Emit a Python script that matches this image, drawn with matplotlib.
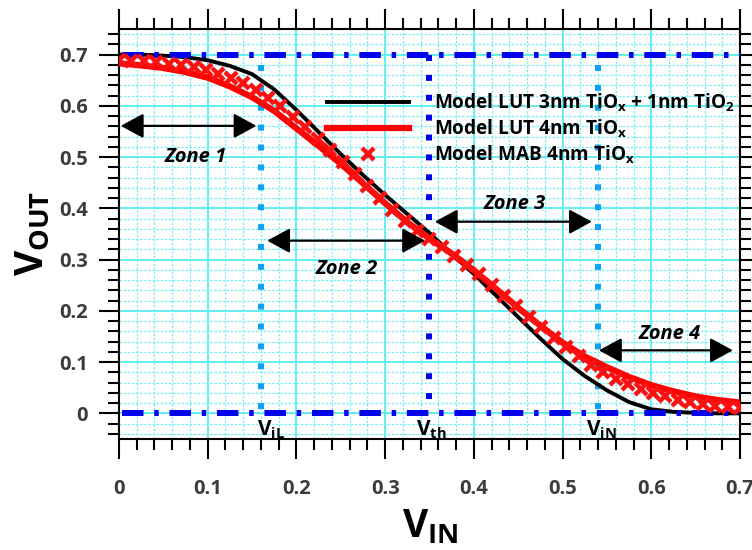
import matplotlib
matplotlib.use("Agg")
import matplotlib.pyplot as plt
from matplotlib.ticker import MultipleLocator
import numpy as np

plt.rcParams["font.family"] = ["Open Sans", "DejaVu Sans"]
plt.rcParams["font.weight"] = "bold"
plt.rcParams["mathtext.fontset"] = "custom"
plt.rcParams["mathtext.rm"] = "Open Sans:bold"
plt.rcParams["mathtext.it"] = "Open Sans:bold:italic"
plt.rcParams["mathtext.bf"] = "Open Sans:bold"

# curves sampled every 0.025 V
v_in = [0.0, 0.025, 0.05, 0.075, 0.1, 0.125, 0.15, 0.175, 0.2, 0.225, 0.25,
        0.275, 0.3, 0.325, 0.35, 0.375, 0.4, 0.425, 0.45, 0.475, 0.5, 0.525,
        0.55, 0.575, 0.6, 0.625, 0.65, 0.675, 0.7]
lut_bilayer = [0.700, 0.700, 0.698, 0.695, 0.689, 0.678, 0.662, 0.632, 0.592,
               0.549, 0.506, 0.465, 0.426, 0.389, 0.352, 0.311, 0.272, 0.230,
               0.188, 0.146, 0.106, 0.073, 0.045, 0.022, 0.008, 0.003, 0.001,
               0.000, 0.000]
lut_single = [0.683, 0.679, 0.674, 0.666, 0.655, 0.638, 0.617, 0.590, 0.556,
              0.522, 0.487, 0.449, 0.410, 0.373, 0.341, 0.312, 0.279, 0.243,
              0.206, 0.171, 0.138, 0.111, 0.090, 0.071, 0.055, 0.043, 0.033,
              0.026, 0.021]

# MAB model points
v_mab = [0.000, 0.014, 0.028, 0.042, 0.056, 0.070, 0.084, 0.098, 0.112, 0.126,
         0.140, 0.154, 0.168, 0.182, 0.196, 0.210, 0.224, 0.238, 0.252, 0.266,
         0.280, 0.294, 0.308, 0.322, 0.336, 0.350, 0.364, 0.378, 0.392, 0.406,
         0.420, 0.434, 0.448, 0.462, 0.476, 0.490, 0.504, 0.518, 0.532, 0.546,
         0.560, 0.574, 0.588, 0.602, 0.616, 0.630, 0.644, 0.658, 0.672, 0.686,
         0.700]
mab = [0.689, 0.688, 0.687, 0.685, 0.682, 0.679, 0.675, 0.670, 0.663, 0.655,
       0.644, 0.631, 0.616, 0.599, 0.579, 0.558, 0.536, 0.513, 0.490, 0.467,
       0.444, 0.420, 0.397, 0.375, 0.356, 0.340, 0.325, 0.308, 0.290, 0.271,
       0.251, 0.230, 0.209, 0.188, 0.168, 0.148, 0.130, 0.112, 0.095, 0.081,
       0.068, 0.058, 0.048, 0.040, 0.033, 0.027, 0.022, 0.018, 0.015, 0.012,
       0.011]

vdd = 0.7
v_il, v_th, v_ih = 0.16, 0.35, 0.54
zones = ["Zone 1", "Zone 2", "Zone 3", "Zone 4"]
zone_x0 = [0.002, 0.167, 0.356, 0.541]
zone_x1 = [0.155, 0.345, 0.533, 0.692]
zone_y = [0.561, 0.337, 0.374, 0.123]
zone_tx = [0.087, 0.257, 0.446, 0.621]
zone_ty = [0.501, 0.281, 0.409, 0.154]

fig = plt.figure(figsize=(7.52, 5.5), dpi=100)
ax = fig.add_axes([119/752, 111/550, 621/752, 410/550])

ax.set_xlim(0, 0.7)
ax.set_ylim(-0.05, 0.75)
ax.xaxis.set_major_locator(MultipleLocator(0.1))
ax.xaxis.set_minor_locator(MultipleLocator(0.02))
ax.yaxis.set_major_locator(MultipleLocator(0.1))
ax.yaxis.set_minor_locator(MultipleLocator(0.02))
ax.grid(which="major", color="#55eef2", lw=1.3, ls="-", zorder=0)
ax.grid(which="minor", color="#74f0fa", lw=0.9, ls=(0, (2, 1.3)), zorder=0)
ax.set_axisbelow(True)

ax.tick_params(which="both", direction="out", top=True, right=True,
               width=1.5, color="black")
ax.tick_params(which="major", length=14.5)
ax.tick_params(which="minor", length=8)
ax.tick_params(axis="x", which="major", pad=14, labelsize=14.5, labelcolor="#3c3c3c")
ax.tick_params(axis="y", which="major", pad=8, labelsize=14.5, labelcolor="#3c3c3c")
for sp in ax.spines.values():
    sp.set_linewidth(1.5)

ax.xaxis.set_major_formatter(lambda v, p: "0" if abs(v) < 1e-9 else f"{v:.1f}")
ax.yaxis.set_major_formatter(lambda v, p: "0" if abs(v) < 1e-9 else f"{v:.1f}")

# vertical markers
ax.plot([v_il, v_il], [0.68, 0.0], color="#0ba3f2", lw=4.3, ls=(0, (1, 2.33)), zorder=2)
ax.plot([v_ih, v_ih], [0.68, 0.0], color="#0ba3f2", lw=4.3, ls=(0, (1, 2.33)), zorder=2)
ax.plot([v_th, v_th], [0.70, 0.0], color="#0000e8", lw=4.3, ls=(0, (1, 2.33)), zorder=2)

ax.plot(v_in, lut_bilayer, color="black", lw=2.8, zorder=3,
        label=r"Model LUT 3nm TiO$_\mathrm{x}$ + 1nm TiO$_2$")

# supply levels
ax.plot([0.003, 0.7], [vdd, vdd], color="#0000ee", lw=4.3,
        ls=(0, (3.6, 1.8, 0.75, 1.8)), zorder=4)
ax.plot([0.003, 0.7], [0, 0], color="#0000ee", lw=4.3,
        ls=(0, (3.6, 1.8, 0.75, 1.8)), zorder=4)

ax.plot(v_in, lut_single, color="#ff0000", lw=4.5, zorder=5,
        label=r"Model LUT 4nm TiO$_\mathrm{x}$")
ax.plot(v_mab, mab, ls="none", marker="x", ms=9, mew=3.2, color="#ff1010", zorder=6,
        label=r"Model MAB 4nm TiO$_\mathrm{x}$")

ax.text(v_il - 0.005, -0.031, r"V$_\mathrm{iL}$", fontsize=15, ha="left", va="center")
ax.text(v_th - 0.015, -0.031, r"V$_\mathrm{th}$", fontsize=15, ha="left", va="center")
ax.text(v_ih - 0.014, -0.031, r"V$_\mathrm{iN}$", fontsize=15, ha="left", va="center")

for name, x0, x1, y, tx, ty in zip(zones, zone_x0, zone_x1, zone_y, zone_tx, zone_ty):
    ax.annotate("", xy=(x1, y), xytext=(x0, y),
                arrowprops=dict(arrowstyle="<|-|>,head_length=0.7,head_width=0.38",
                                color="black", lw=1.6, shrinkA=0, shrinkB=0,
                                mutation_scale=20), zorder=7)
    ax.text(tx, ty, name, fontsize=14.5, style="italic", ha="center", va="center", zorder=7)

ax.legend(loc="upper left", bbox_to_anchor=(0.335, 0.848), frameon=False,
          fontsize=13.7, handlelength=4.3, handletextpad=1.3, labelspacing=0.2,
          borderpad=0, borderaxespad=0, numpoints=1)

fig.text(430/752, 1 - 527/550, r"V$_\mathrm{IN}$", fontsize=28, ha="center", va="center")
fig.text(33/752, 1 - 234/550, r"V$_\mathrm{OUT}$", fontsize=28, ha="center", va="center",
         rotation=90)

fig.savefig("out.png", dpi=100)
